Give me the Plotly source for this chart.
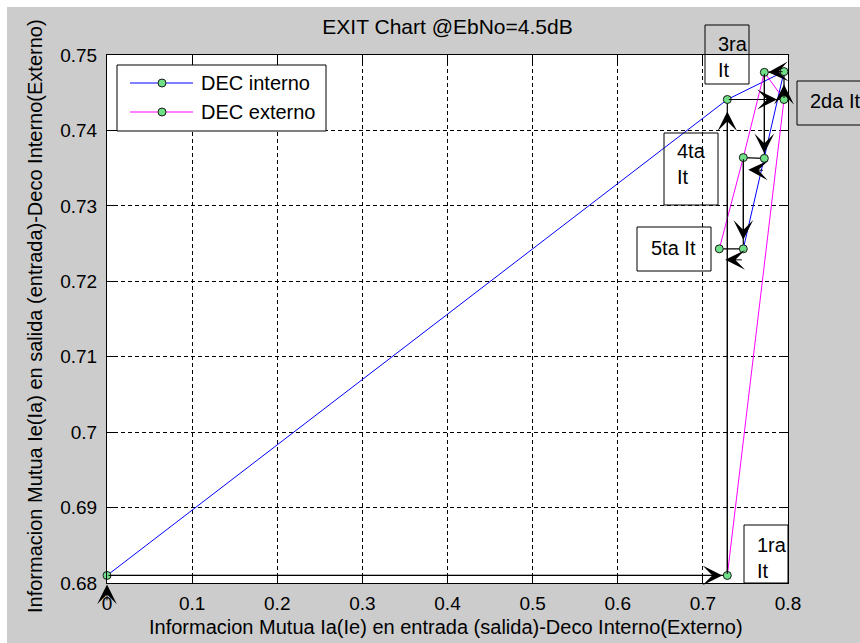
import plotly.graph_objects as go

# EXIT chart, Eb/No = 4.5 dB: puntos de los decodificadores interno y externo
inner_ia = [0.0, 0.7287, 0.7953, 0.7722, 0.7475]     # Ia del decodificador interno
inner_ie = [0.681, 0.7441, 0.7478, 0.7363, 0.7243]   # Ie del decodificador interno
outer_ie = [0.7287, 0.7953, 0.7722, 0.7475, 0.7193]  # Ie del decodificador externo (eje x)
outer_ia = [0.681, 0.7441, 0.7477, 0.7364, 0.7243]   # Ia del decodificador externo (eje y)
start_point = (0.0, 0.6775)                           # origen de la primera flecha

x_ticks = [0, 0.1, 0.2, 0.3, 0.4, 0.5, 0.6, 0.7, 0.8]
y_ticks = [0.68, 0.69, 0.70, 0.71, 0.72, 0.73, 0.74, 0.75]
iter_labels = ["1ra<br>It", "2da It", "3ra<br>It", "4ta<br>It", "5ta It"]

W, H = 860, 643
L, R, T, B = 107, 788, 55, 583  # plot area in pixels
FONT = "Liberation Sans, Arial, sans-serif"
FS = 20
BLUE, MAGENTA, GREEN = "#0000ff", "#ff00ff", "#70e088"


def px(xp):
    return (xp - L) / (R - L)


def py(yp):
    return (B - yp) / (B - T)


# staircase trajectory: inner -> outer -> inner ...
traj_x, traj_y = [], []
for k in range(len(inner_ia)):
    traj_x += [inner_ia[k], outer_ie[k]]
    traj_y += [inner_ie[k], outer_ia[k]]

fig = go.Figure()
fig.add_trace(go.Scatter(x=traj_x, y=traj_y, mode="lines",
                         line=dict(color="black", width=1.2),
                         showlegend=False, hoverinfo="skip", cliponaxis=False))
fig.add_trace(go.Scatter(x=inner_ia, y=inner_ie, mode="lines+markers", name="DEC interno",
                         line=dict(color=BLUE, width=1),
                         marker=dict(size=8, color=GREEN, line=dict(color="#1a1a1a", width=1)),
                         cliponaxis=False, showlegend=False))
fig.add_trace(go.Scatter(x=outer_ie, y=outer_ia, mode="lines+markers", name="DEC externo",
                         line=dict(color=MAGENTA, width=1),
                         marker=dict(size=8, color=GREEN, line=dict(color="#1a1a1a", width=1)),
                         cliponaxis=False, showlegend=False))

# arrows along the trajectory
tails = [start_point] + list(zip(traj_x[:-1], traj_y[:-1]))
heads = list(zip(traj_x, traj_y))
standoffs = [9, 5, 12, 7, 13, 4, 5, 5, 9, 6]
yshifts = [0, 0, 0, 0, 0, 0, 0, -12, 0, -11]
annotations = []
for (tx, ty), (hx, hy), so, ys in zip(tails, heads, standoffs, yshifts):
    annotations.append(dict(x=hx, y=hy, ax=tx, ay=ty, xref="x", yref="y", axref="x", ayref="y",
                            text="", showarrow=True, arrowhead=3, arrowsize=3.3, arrowwidth=1,
                            arrowcolor="black", standoff=so, yshift=ys))

shapes = []
# iteration label boxes (pixel boxes) and their texts
boxes = [(744, 525, 788, 583), (797, 81, 875, 125), (705, 25, 749, 84),
         (664, 133, 718, 205), (637, 227, 711, 271)]
text_pos = [(755, 558), (808, 101), (716, 57), (675, 164), (649, 248)]
for (x0, y0, x1, y1), (tx, ty), lab in zip(boxes, text_pos, iter_labels):
    shapes.append(dict(type="rect", xref="paper", yref="paper",
                       x0=px(x0), x1=px(x1), y0=py(y1), y1=py(y0),
                       line=dict(color="black", width=1), fillcolor="rgba(0,0,0,0)"))
    annotations.append(dict(x=px(tx), y=py(ty), xref="paper", yref="paper", text=lab,
                            showarrow=False, xanchor="left", yanchor="middle", align="left",
                            font=dict(family=FONT, size=FS, color="black")))

# legend
shapes.append(dict(type="rect", xref="paper", yref="paper",
                   x0=px(117), x1=px(326), y0=py(131), y1=py(65),
                   line=dict(color="black", width=1), fillcolor="white"))
for yl, col, name in [(83, BLUE, "DEC interno"), (112, MAGENTA, "DEC externo")]:
    shapes.append(dict(type="line", xref="paper", yref="paper",
                       x0=px(130), x1=px(193), y0=py(yl), y1=py(yl),
                       line=dict(color=col, width=1.2)))
    shapes.append(dict(type="circle", xref="paper", yref="paper",
                       xsizemode="pixel", ysizemode="pixel",
                       xanchor=px(162), yanchor=py(yl), x0=-4, x1=4, y0=-4, y1=4,
                       line=dict(color="#1a1a1a", width=1), fillcolor=GREEN))
    annotations.append(dict(x=px(199), y=py(yl), xref="paper", yref="paper", text=name,
                            showarrow=False, xanchor="left", yanchor="middle",
                            font=dict(family=FONT, size=FS, color="black")))

# white strips along the top and left edges
shapes.append(dict(type="rect", xref="paper", yref="paper", layer="below",
                   x0=px(0), x1=px(W), y0=py(7), y1=py(0),
                   line=dict(width=0), fillcolor="white"))
shapes.append(dict(type="rect", xref="paper", yref="paper", layer="below",
                   x0=px(0), x1=px(7), y0=py(H), y1=py(0),
                   line=dict(width=0), fillcolor="white"))

# axis titles
annotations.append(dict(x=px(446), y=py(627), xref="paper", yref="paper",
                        text="Informacion Mutua Ia(Ie) en entrada (salida)-Deco Interno(Externo)",
                        showarrow=False, xanchor="center", yanchor="middle",
                        font=dict(family=FONT, size=FS, color="black")))
annotations.append(dict(x=px(35), y=py(316), xref="paper", yref="paper",
                        text="Informacion Mutua Ie(Ia) en salida (entrada)-Deco Interno(Externo)",
                        showarrow=False, xanchor="center", yanchor="middle", textangle=-90,
                        font=dict(family=FONT, size=FS, color="black")))

axis_common = dict(showline=True, linecolor="black", linewidth=1, mirror="allticks",
                   ticks="inside", ticklen=7, tickcolor="black",
                   showgrid=True, gridcolor="black", gridwidth=1, griddash="4px,3px",
                   zeroline=False, tickfont=dict(family=FONT, size=19, color="black"))

fig.update_layout(
    width=W, height=H,
    margin=dict(l=L, r=W - R, t=T, b=H - B),
    paper_bgcolor="#cccccc", plot_bgcolor="white",
    title=dict(text="EXIT Chart @EbNo=4.5dB", x=0.5, xref="paper", xanchor="center",
               y=1 - 27 / H, yref="container", yanchor="middle",
               font=dict(family=FONT, size=21, color="black")),
    xaxis=dict(range=[0, 0.8], tickvals=x_ticks, ticklabelstandoff=3, **axis_common),
    yaxis=dict(range=[0.68, 0.75], tickvals=y_ticks, ticklabelstandoff=5, **axis_common),
    shapes=shapes, annotations=annotations, showlegend=False,
)

fig.write_html("out.html")
